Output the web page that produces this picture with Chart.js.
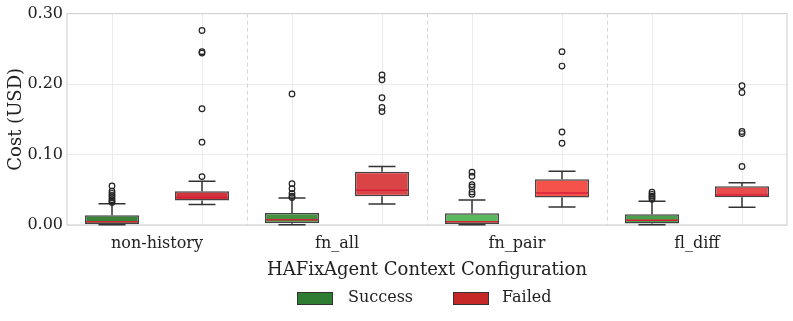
<!DOCTYPE html>
<html>
<head>
<meta charset="utf-8">
<script src="https://cdn.jsdelivr.net/npm/chart.js@4.4.1/dist/chart.umd.min.js"></script>
<style>
  html, body { margin: 0; padding: 0; background: #fff; }
  #wrap { width: 793px; height: 321px; position: relative; }
</style>
</head>
<body>
<div id="wrap"><canvas id="costChart"></canvas></div>
<script>
// categories and series
const categories = ['non-history', 'fn_all', 'fn_pair', 'fl_diff'];
const seriesNames = ['Success', 'Failed'];
const yTicks = [0, 0.1, 0.2, 0.3];

// Success: box stats per configuration
const successLow    = [0.0004, 0.0004, 0.0004, 0.0004];
const successQ1     = [0.0010, 0.0024, 0.0014, 0.0020];
const successMedian = [0.0047, 0.0075, 0.0047, 0.0067];
const successQ3     = [0.0138, 0.0170, 0.0166, 0.0152];
const successHigh   = [0.0300, 0.0384, 0.0356, 0.0337];
const successOutliers = [
    [0.0555, 0.048, 0.045, 0.042, 0.039, 0.036, 0.034, 0.032],
    [0.186, 0.0587, 0.0516, 0.045, 0.041, 0.039],
    [0.075, 0.0692, 0.0573, 0.054, 0.047, 0.0436],
    [0.0465, 0.0436, 0.041, 0.039, 0.0365]
];

// Failed
const failedLow    = [0.0290, 0.0299, 0.0256, 0.0252];
const failedQ1     = [0.0346, 0.0408, 0.0389, 0.0394];
const failedMedian = [0.0390, 0.0493, 0.0455, 0.0427];
const failedQ3     = [0.0480, 0.0754, 0.0650, 0.0550];
const failedHigh   = [0.0620, 0.0830, 0.0764, 0.0600];
const failedOutliers = [
    [0.276, 0.246, 0.244, 0.165, 0.1175, 0.0687],
    [0.213, 0.206, 0.1806, 0.1668, 0.161],
    [0.246, 0.2256, 0.132, 0.116],
    [0.1977, 0.188, 0.1327, 0.1298, 0.083]
];

const successColors = ['#3a843a', '#44913f', '#5cb85c', '#4aa04a'];
const failedColors  = ['#d2353b', '#da4446', '#f5524b', '#e84b4b'];
const legendColors  = ['#2e7d32', '#c62828'];

const FONT = "'DejaVu Serif', serif";

const stats = [
    { low: successLow, median: successMedian, high: successHigh, outliers: successOutliers },
    { low: failedLow, median: failedMedian, high: failedHigh, outliers: failedOutliers }
];

// grid, frame, whiskers, medians, outliers and legend
const boxExtras = {
    id: 'boxExtras',
    beforeDatasetsDraw(chart) {
        const { ctx, chartArea: a, scales: { x } } = chart;
        ctx.save();
        // vertical grid at each box centre
        ctx.strokeStyle = '#ececec';
        ctx.lineWidth = 1;
        chart.data.datasets.forEach((ds, di) => {
            chart.getDatasetMeta(di).data.forEach(bar => {
                const px = Math.round(bar.x) + 0.5;
                ctx.beginPath();
                ctx.moveTo(px, a.top);
                ctx.lineTo(px, a.bottom);
                ctx.stroke();
            });
        });
        // dashed separators between configurations
        ctx.strokeStyle = '#d6d6d6';
        ctx.setLineDash([4, 3]);
        for (let i = 0; i < categories.length - 1; i++) {
            const px = Math.round((x.getPixelForTick(i) + x.getPixelForTick(i + 1)) / 2) + 0.5;
            ctx.beginPath();
            ctx.moveTo(px, a.top);
            ctx.lineTo(px, a.bottom);
            ctx.stroke();
        }
        ctx.setLineDash([]);
        // frame
        ctx.strokeStyle = '#d4d4d4';
        ctx.lineWidth = 1.2;
        ctx.strokeRect(a.left, a.top, a.right - a.left, a.bottom - a.top);
        ctx.restore();
    },
    afterDatasetsDraw(chart) {
        const { ctx, scales: { y } } = chart;
        ctx.save();
        chart.data.datasets.forEach((ds, di) => {
            const s = stats[di];
            chart.getDatasetMeta(di).data.forEach((bar, i) => {
                const cx = bar.x;
                const half = bar.width / 2;
                const cap = half / 2;
                const q1 = y.getPixelForValue(ds.data[i][0]);
                const q3 = y.getPixelForValue(ds.data[i][1]);
                const lo = y.getPixelForValue(s.low[i]);
                const hi = y.getPixelForValue(s.high[i]);
                // whiskers and caps
                ctx.strokeStyle = '#333';
                ctx.lineWidth = 1.5;
                ctx.beginPath();
                ctx.moveTo(cx, q3); ctx.lineTo(cx, hi);
                ctx.moveTo(cx, q1); ctx.lineTo(cx, lo);
                ctx.moveTo(cx - cap, hi); ctx.lineTo(cx + cap, hi);
                ctx.moveTo(cx - cap, lo); ctx.lineTo(cx + cap, lo);
                ctx.stroke();
                // median
                const md = y.getPixelForValue(s.median[i]);
                ctx.strokeStyle = '#d81f3a';
                ctx.lineWidth = 1.5;
                ctx.beginPath();
                ctx.moveTo(cx - half + 1, md); ctx.lineTo(cx + half - 1, md);
                ctx.stroke();
                // outliers
                ctx.strokeStyle = '#222';
                ctx.lineWidth = 1.2;
                s.outliers[i].forEach(v => {
                    ctx.beginPath();
                    ctx.arc(cx, y.getPixelForValue(v), 2.8, 0, Math.PI * 2);
                    ctx.stroke();
                });
            });
        });
        ctx.restore();
    },
    afterDraw(chart) {
        const { ctx } = chart;
        // legend below the x axis title
        const items = [
            { label: seriesNames[0], color: legendColors[0], x: 297, tx: 348 },
            { label: seriesNames[1], color: legendColors[1], x: 453, tx: 502 }
        ];
        ctx.save();
        ctx.font = '16px ' + FONT;
        ctx.textBaseline = 'middle';
        ctx.fillStyle = '#222';
        items.forEach(it => {
            ctx.fillStyle = it.color;
            ctx.fillRect(it.x, 292, 35, 12);
            ctx.strokeStyle = '#333';
            ctx.lineWidth = 1;
            ctx.strokeRect(it.x + 0.5, 292.5, 35, 12);
            ctx.fillStyle = '#222';
            ctx.fillText(it.label, it.tx, 298);
        });
        ctx.restore();
    }
};

const ctx = document.getElementById('costChart');
new Chart(ctx, {
    type: 'bar',
    data: {
        labels: categories,
        datasets: [
            {
                label: seriesNames[0],
                data: categories.map((_, i) => [successQ1[i], successQ3[i]]),
                backgroundColor: successColors,
                borderColor: '#444',
                borderWidth: 1.5,
                borderSkipped: false,
                categoryPercentage: 1.0,
                barPercentage: 0.6
            },
            {
                label: seriesNames[1],
                data: categories.map((_, i) => [failedQ1[i], failedQ3[i]]),
                backgroundColor: failedColors,
                borderColor: '#444',
                borderWidth: 1.5,
                borderSkipped: false,
                categoryPercentage: 1.0,
                barPercentage: 0.6
            }
        ]
    },
    options: {
        responsive: true,
        maintainAspectRatio: false,
        animation: false,
        layout: { padding: { top: 13, right: 6, bottom: 0, left: 0 } },
        plugins: {
            legend: { display: false },
            tooltip: { enabled: false }
        },
        scales: {
            x: {
                grid: { display: false },
                border: { display: false },
                ticks: { color: '#222', font: { family: FONT, size: 16 }, padding: 1 },
                title: {
                    display: true,
                    text: 'HAFixAgent Context Configuration',
                    color: '#222',
                    font: { family: FONT, size: 18 },
                    padding: { top: 4, bottom: 40 }
                },
                afterFit(scale) { scale.height = 96; }
            },
            y: {
                min: 0,
                max: 0.3,
                afterBuildTicks(scale) { scale.ticks = yTicks.map(v => ({ value: v })); },
                grid: { color: '#ebebeb', drawTicks: false },
                border: { display: false },
                ticks: {
                    color: '#222',
                    font: { family: FONT, size: 16 },
                    padding: 4,
                    callback: v => Number(v).toFixed(2)
                },
                title: {
                    display: true,
                    text: 'Cost (USD)',
                    color: '#222',
                    font: { family: FONT, size: 18 },
                    padding: { top: 6, bottom: 4 }
                },
                afterFit(scale) { scale.width = 67; }
            }
        }
    },
    plugins: [boxExtras]
});
</script>
</body>
</html>
